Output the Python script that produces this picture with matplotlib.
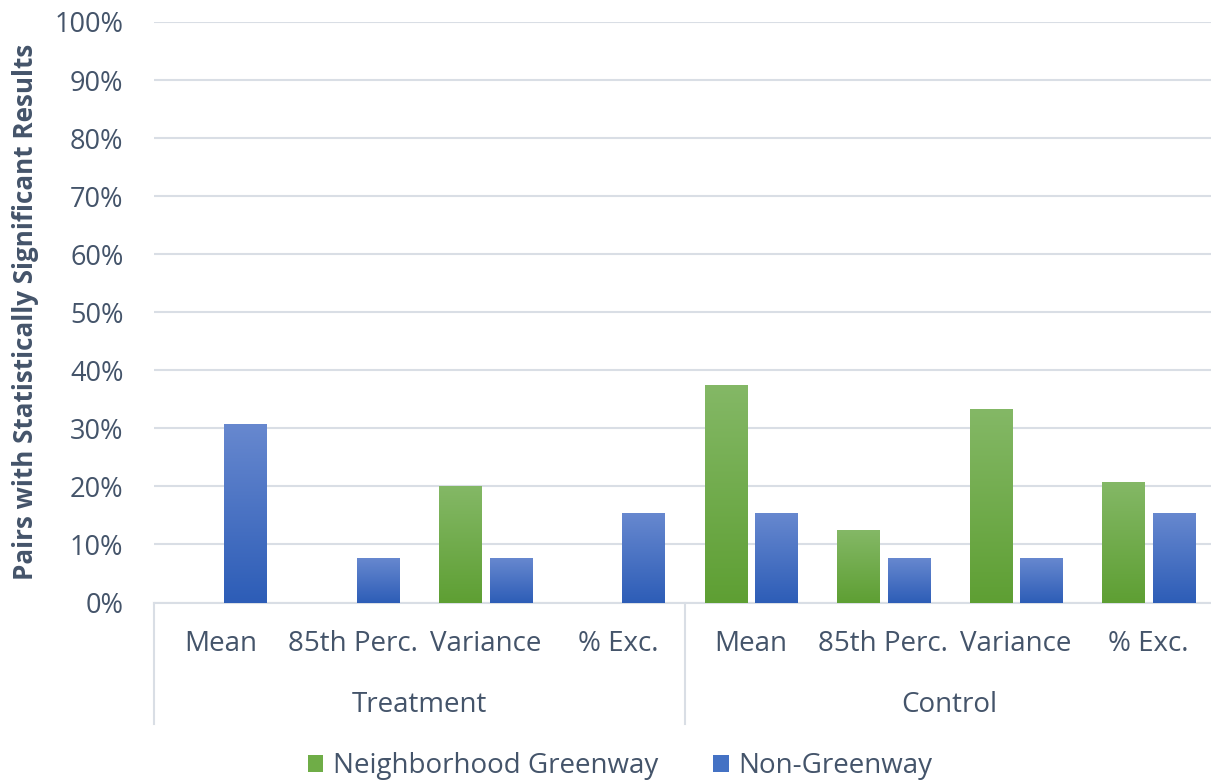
import numpy as np
import matplotlib
matplotlib.use("Agg")
import matplotlib.pyplot as plt
from matplotlib.colors import LinearSegmentedColormap
from matplotlib.patches import Patch

groups = ["Treatment", "Control"]
metrics = ["Mean", "85th Perc.", "Variance", "% Exc."]
greenway = [0.0, 0.0, 20.0, 0.0, 37.5, 12.5, 33.3, 20.8]
non_greenway = [30.8, 7.7, 7.7, 15.4, 15.4, 7.7, 7.7, 15.4]
yticks = [0, 10, 20, 30, 40, 50, 60, 70, 80, 90, 100]
series_names = ["Neighborhood Greenway", "Non-Greenway"]

TEXT = "#44546A"
GRID = "#D9DEE5"
plt.rcParams["font.family"] = ["Open Sans", "DejaVu Sans"]

W, H = 1211, 782
fig = plt.figure(figsize=(W / 100, H / 100), dpi=100)
left, right = 154 / W, 1215 / W
bottom, top = 1 - 602.5 / H, 1 - 22 / H
ax = fig.add_axes([left, bottom, right - left, top - bottom])

n = len(greenway)
x = np.arange(n)
bw = 0.317
off = 0.19

green_cmap = LinearSegmentedColormap.from_list("g", ["#5E9F33", "#84B866"])
blue_cmap = LinearSegmentedColormap.from_list("b", ["#2D5DB7", "#6788CF"])
grad = np.linspace(0, 1, 256).reshape(-1, 1)

def gradient_bars(xs, vals, cmap):
    bars = ax.bar(xs, vals, width=bw, color="none", edgecolor="none", zorder=3)
    for p in bars:
        h = p.get_height()
        if h <= 0:
            continue
        x0, w = p.get_x(), p.get_width()
        im = ax.imshow(grad, cmap=cmap, aspect="auto", origin="lower",
                       extent=[x0, x0 + w, 0, h], zorder=3)
        im.set_clip_path(p)
    return bars

gradient_bars(x - off, greenway, green_cmap)
gradient_bars(x + off, non_greenway, blue_cmap)

ax.set_xlim(-0.5, n - 0.5)
ax.set_ylim(0, 100)
ax.set_yticks(yticks)
ax.set_yticklabels([f"{t}%" for t in yticks])
ax.yaxis.grid(True, color=GRID, linewidth=1.5, zorder=0)
ax.set_axisbelow(True)
ax.tick_params(axis="y", length=0, pad=22, labelsize=19.5, labelcolor=TEXT)
ax.set_xticks([])
for s in ["top", "right", "left"]:
    ax.spines[s].set_visible(False)
ax.spines["bottom"].set_color(GRID)
ax.spines["bottom"].set_linewidth(1.5)

fig.text(26 / W, 1 - 312 / H, "Pairs with Statistically Significant Results",
         rotation=90, ha="center", va="center", fontsize=18.7,
         fontweight="bold", color=TEXT)

trans = ax.get_xaxis_transform()
for i in range(n):
    ax.text(x[i], -0.072, metrics[i % len(metrics)], transform=trans,
            ha="center", va="center", fontsize=20, color=TEXT, clip_on=False)
per = len(metrics)
for g, name in enumerate(groups):
    c = g * per + (per - 1) / 2
    ax.text(c, -0.177, name, transform=trans, ha="center", va="center",
            fontsize=20, color=TEXT, clip_on=False)
for b in range(len(groups) + 1):
    xb = b * per - 0.5
    ax.plot([xb, xb], [0, -0.21], transform=trans, color=GRID, linewidth=1.5,
            clip_on=False)

handles = [Patch(facecolor="#6FAD47", edgecolor="none"),
           Patch(facecolor="#4472C4", edgecolor="none")]
fig.legend(handles, series_names, loc="center", bbox_to_anchor=(620 / W, 1 - 766 / H),
           ncol=2, frameon=False, fontsize=20, labelcolor=TEXT,
           handlelength=0.55, handleheight=0.55, handletextpad=0.35, columnspacing=2.0)

fig.savefig("out.png", dpi=100)
